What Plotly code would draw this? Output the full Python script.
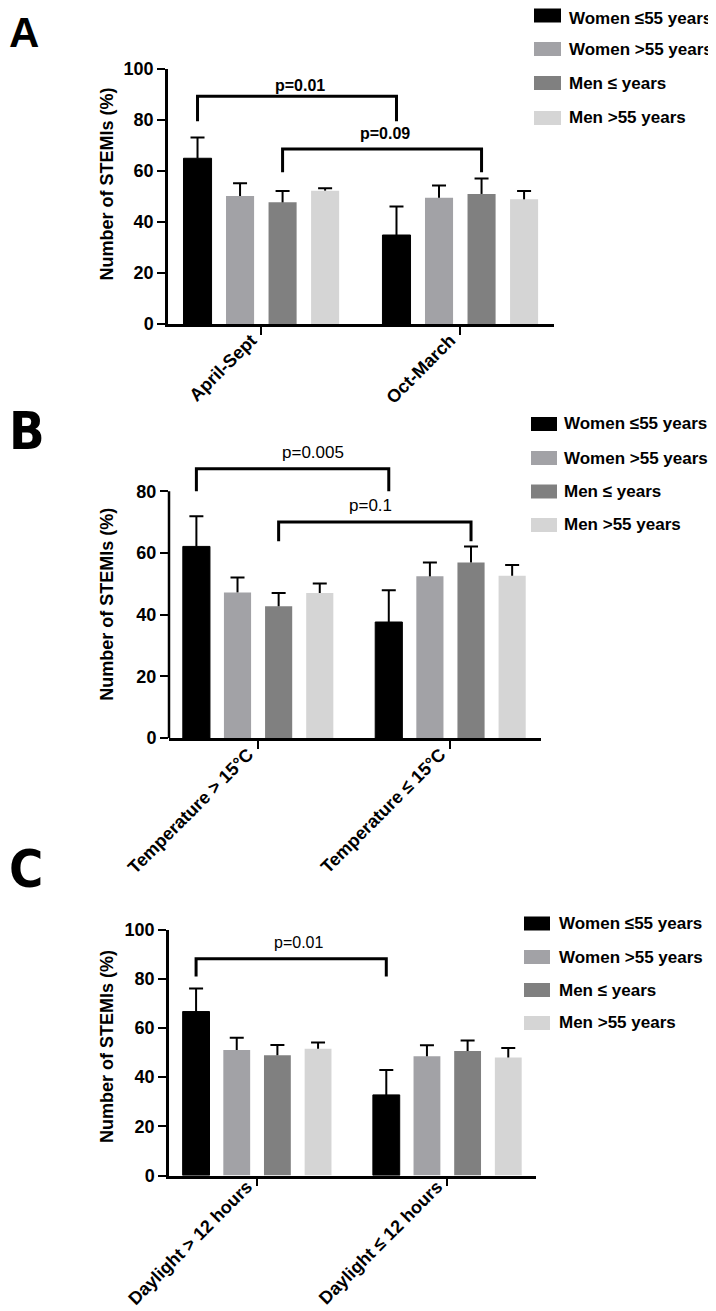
import plotly.graph_objects as go

# ---------------- data ----------------
series_names = ["Women ≤55 years", "Women >55 years", "Men ≤ years", "Men >55 years"]
series_colors = ["#000000", "#a2a2a6", "#808080", "#d5d5d5"]

cats_a = ["April-Sept", "Oct-March"]
a_women_le55 = [65.0, 34.9]
a_women_gt55 = [50.2, 49.5]
a_men_le = [47.7, 51.0]
a_men_gt55 = [52.3, 48.9]
a_err_women_le55 = [8.1, 11.2]
a_err_women_gt55 = [5.0, 4.8]
a_err_men_le = [4.5, 6.1]
a_err_men_gt55 = [0.9, 3.3]

cats_b = ["Temperature > 15°C", "Temperature ≤ 15°C"]
b_women_le55 = [62.1, 37.6]
b_women_gt55 = [47.2, 52.4]
b_men_le = [42.7, 56.9]
b_men_gt55 = [47.0, 52.6]
b_err_women_le55 = [9.8, 10.3]
b_err_women_gt55 = [4.8, 4.5]
b_err_men_le = [4.3, 5.2]
b_err_men_gt55 = [3.1, 3.5]

cats_c = ["Daylight > 12 hours", "Daylight ≤ 12 hours"]
c_women_le55 = [66.7, 32.8]
c_women_gt55 = [51.1, 48.5]
c_men_le = [48.9, 50.7]
c_men_gt55 = [51.6, 48.0]
c_err_women_le55 = [9.4, 10.1]
c_err_women_gt55 = [4.9, 4.5]
c_err_men_le = [4.2, 4.2]
c_err_men_gt55 = [2.5, 3.9]

# significance brackets: series index, bracket level, leg bottom, label, label x (category units), label y
a_br_series = [0, 2]
a_br_level = [89.3, 68.6]
a_br_bottom = [79.5, 59.5]
a_br_label = ["p=0.01", "p=0.09"]
a_br_label_x = [0.194, 0.62]
a_br_label_y = [93.6, 74.9]

b_br_series = [0, 2]
b_br_level = [87.3, 70.0]
b_br_bottom = [80.0, 63.8]
b_br_label = ["p=0.005", "p=0.1"]
b_br_label_x = [0.286, 0.584]
b_br_label_y = [92.4, 75.3]

c_br_series = [0]
c_br_level = [88.2]
c_br_bottom = [81.0]
c_br_label = ["p=0.01"]
c_br_label_x = [0.219]
c_br_label_y = [94.6]

y_ticks_a = [0, 20, 40, 60, 80, 100]
y_ticks_b = [0, 20, 40, 60, 80]
y_ticks_c = [0, 20, 40, 60, 80, 100]

panel_letters = ["A", "B", "C"]
y_title = "Number of STEMIs (%)"

# ---------------- layout constants ----------------
W, H = 716, 1311
BARGAP = 0.145
BARGROUPGAP = 0.34
FONT = "Liberation Sans, Arial, sans-serif"
NARROW = "Liberation Sans Narrow, DejaVu Sans Condensed, Arial Narrow, sans-serif"


def px(x):
    return x / W


def py(y):
    return 1 - y / H


def slot(i):
    return (i - 1.5) * (1 - BARGAP) / 4


panels = [
    dict(cats=cats_a,
         vals=[a_women_le55, a_women_gt55, a_men_le, a_men_gt55],
         errs=[a_err_women_le55, a_err_women_gt55, a_err_men_le, a_err_men_gt55],
         br=(a_br_series, a_br_level, a_br_bottom, a_br_label, a_br_label_x, a_br_label_y),
         pfont=dict(size=16, weight="bold"),
         yticks=y_ticks_a, ytop=100, xstand=-12,
         xdom=(160, 546), xr=(-0.469, 1.471), ydom=(316, 61),
         legend_x=(526, 553, 559), legend_y=[7.5, 41, 75, 110], legend_ty=[10.5, 41, 75, 110],
         letter=(0, 0, 42, FONT), title=(99, 176.5)),
    dict(cats=cats_b,
         vals=[b_women_le55, b_women_gt55, b_men_le, b_men_gt55],
         errs=[b_err_women_le55, b_err_women_gt55, b_err_men_le, b_err_men_gt55],
         br=(b_br_series, b_br_level, b_br_bottom, b_br_label, b_br_label_x, b_br_label_y),
         pfont=dict(size=17, weight="normal"),
         yticks=y_ticks_b, ytop=80, xstand=-12,
         xdom=(161, 532.5), xr=(-0.463, 1.468), ydom=(730, 421.5),
         legend_x=(523, 549, 554), legend_y=[416, 450, 483.5, 517], legend_ty=[416, 450, 483.5, 517],
         letter=(0, 392, 52, NARROW), title=(99, 596.7)),
    dict(cats=cats_c,
         vals=[c_women_le55, c_women_gt55, c_men_le, c_men_gt55],
         errs=[c_err_women_le55, c_err_women_gt55, c_err_men_le, c_err_men_gt55],
         br=(c_br_series, c_br_level, c_br_bottom, c_br_label, c_br_label_x, c_br_label_y),
         pfont=dict(size=16, weight="normal"),
         yticks=y_ticks_c, ytop=100, xstand=-17,
         xdom=(161, 528.3), xr=(-0.463, 1.468), ydom=(1167.5, 921.7),
         legend_x=(516, 542, 549), legend_y=[915.5, 949, 982, 1015], legend_ty=[915.5, 949, 982, 1015],
         letter=(0, 830, 52, NARROW), title=(99, 1039)),
]

fig = go.Figure()
shapes = []
annotations = []
layout_axes = {}

for p_i, p in enumerate(panels):
    n = "" if p_i == 0 else str(p_i + 1)
    xref, yref = "x" + n, "y" + n
    for s_i in range(4):
        vals = p["vals"][s_i]
        errs = p["errs"][s_i]
        tops = [v + e for v, e in zip(vals, errs)]
        # visible bar with error stem
        fig.add_trace(go.Bar(
            x=p["cats"], y=vals, xaxis=xref, yaxis=yref,
            offsetgroup=str(s_i), name=series_names[s_i], showlegend=False,
            marker=dict(color=series_colors[s_i],
                        line=dict(width=1 if s_i == 0 else 0, color="#000000")),
            error_y=dict(type="data", symmetric=False, array=errs,
                         arrayminus=[0] * len(errs), width=0, thickness=2, color="#000000"),
            hoverinfo="skip"))
        # transparent bar carrying the error cap
        fig.add_trace(go.Bar(
            x=p["cats"], y=tops, xaxis=xref, yaxis=yref,
            offsetgroup=str(s_i), showlegend=False,
            marker=dict(color="rgba(0,0,0,0)", line=dict(width=0)),
            error_y=dict(type="data", symmetric=True, array=[0] * len(tops),
                         width=7, thickness=2, color="#000000"),
            hoverinfo="skip"))

    # axes
    layout_axes["xaxis" + n] = dict(
        domain=[px(p["xdom"][0]), px(p["xdom"][1])], range=list(p["xr"]),
        anchor=yref, type="category", showline=True, linewidth=2.5, linecolor="#000000",
        ticks="outside", ticklen=8, tickwidth=2, tickcolor="#000000",
        tickangle=-45, tickfont=dict(family=FONT, size=18, color="#000000", weight="bold"),
        ticklabelshift=-10, ticklabelstandoff=p["xstand"],
        showgrid=False, zeroline=False, fixedrange=True, automargin=False)
    layout_axes["yaxis" + n] = dict(
        domain=[py(p["ydom"][0]), py(p["ydom"][1])], range=[0, 100],
        anchor=xref, tickvals=p["yticks"], showline=(p["ytop"] == 100),
        linewidth=2.5, linecolor="#000000",
        ticks="outside", ticklen=8, tickwidth=2, tickcolor="#000000",
        tickfont=dict(family=FONT, size=18, color="#000000", weight="bold"),
        showgrid=False, zeroline=False, fixedrange=True, automargin=False)
    if p["ytop"] != 100:
        shapes.append(dict(type="line", xref=xref + " domain", yref=yref,
                           x0=0, x1=0, y0=0, y1=p["ytop"],
                           line=dict(color="#000000", width=2.5)))

    # brackets
    br_series, br_level, br_bottom, br_label, br_lx, br_ly = p["br"]
    for k in range(len(br_series)):
        x0 = 0 + slot(br_series[k])
        x1 = 1 + slot(br_series[k])
        path = (f"M {x0},{br_bottom[k]} L {x0},{br_level[k]} "
                f"L {x1},{br_level[k]} L {x1},{br_bottom[k]}")
        shapes.append(dict(type="path", xref=xref, yref=yref, path=path,
                           line=dict(color="#000000", width=3)))
        annotations.append(dict(xref=xref, yref=yref, x=br_lx[k], y=br_ly[k],
                                text=br_label[k], showarrow=False,
                                xanchor="center", yanchor="middle",
                                font=dict(family=FONT, color="#000000", **p["pfont"])))

    # y title
    annotations.append(dict(xref="paper", yref="paper", x=px(p["title"][0]), y=py(p["title"][1]),
                            text=y_title, textangle=-90, showarrow=False,
                            xanchor="center", yanchor="middle",
                            font=dict(family=FONT, size=18, color="#000000", weight="bold")))

    # panel letter
    lx, ly, ls, lf = p["letter"]
    annotations.append(dict(xref="paper", yref="paper", x=px(lx), y=py(ly),
                            text=panel_letters[p_i], showarrow=False,
                            xanchor="left", yanchor="top", borderpad=0,
                            font=dict(family=lf, size=ls, color="#000000", weight="bold")))

    # manual legend
    rx0, rx1, tx = p["legend_x"]
    for s_i in range(4):
        cy = p["legend_y"][s_i]
        shapes.append(dict(type="rect", xref="paper", yref="paper",
                           x0=px(rx0), x1=px(rx1), y0=py(cy + 7), y1=py(cy - 7),
                           fillcolor=series_colors[s_i], line=dict(width=0)))
        annotations.append(dict(xref="paper", yref="paper", x=px(tx), y=py(p["legend_ty"][s_i]),
                                text=series_names[s_i], showarrow=False,
                                xanchor="left", yanchor="middle",
                                font=dict(family=FONT, size=17, color="#000000", weight="bold")))

fig.update_layout(
    width=W, height=H, margin=dict(l=0, r=0, t=0, b=0, autoexpand=False),
    paper_bgcolor="#ffffff", plot_bgcolor="#ffffff",
    barmode="group", bargap=BARGAP, bargroupgap=BARGROUPGAP,
    showlegend=False, shapes=shapes, annotations=annotations,
    font=dict(family=FONT, color="#000000"),
    **layout_axes)

fig.write_html("out.html")
